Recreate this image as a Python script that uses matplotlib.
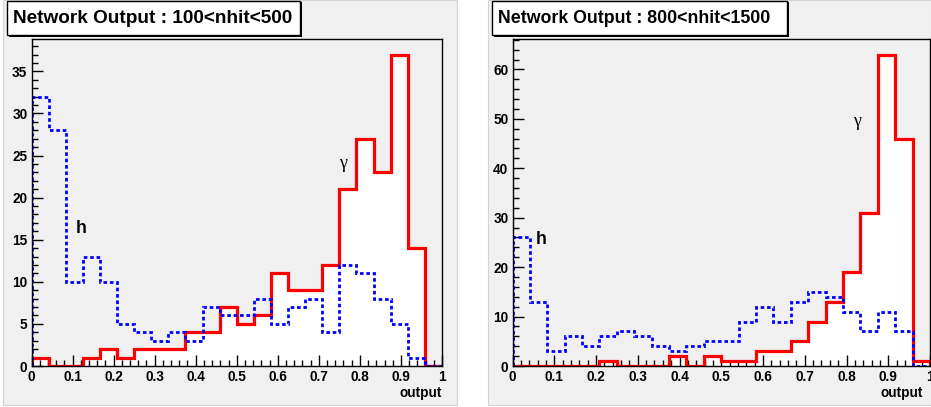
"""Two-panel network output histograms (gamma vs hadron)."""

import matplotlib

matplotlib.use("Agg")
import matplotlib.pyplot as plt
import numpy as np
from matplotlib import font_manager
from matplotlib.patches import Rectangle
from matplotlib.ticker import MultipleLocator

# Data: 24 bins between 0 and 1
bin_edges = np.linspace(0.0, 1.0, 25)

titles = ["Network Output : 100<nhit<500", "Network Output : 800<nhit<1500"]

gamma_low = [1, 0, 0, 1, 2, 1, 2, 2, 2, 4, 4, 7,
             5, 6, 11, 9, 9, 12, 21, 27, 23, 37, 14, 0]
hadron_low = [32, 28, 10, 13, 10, 5, 4, 3, 4, 3, 7, 6,
              6, 8, 5, 7, 8, 4, 12, 11, 8, 5, 1, 0]

gamma_high = [0, 0, 0, 0, 0, 1, 0, 0, 0, 2, 0, 2,
              1, 1, 3, 3, 5, 9, 13, 19, 31, 63, 46, 1]
hadron_high = [26, 13, 3, 6, 4, 6, 7, 6, 4, 3, 4, 5,
               5, 9, 12, 9, 13, 15, 14, 11, 7, 11, 7, 0]

# label positions (data coords) for the "h" and gamma tags
h_pos = [(0.122, 16.3), (0.069, 25.5)]
g_pos = [(0.759, 24.1), (0.824, 49.5)]
y_major = [5, 10]

# Pick a condensed sans if we have one, like the ROOT output
names = {f.name for f in font_manager.fontManager.ttflist}
if "Liberation Sans Narrow" in names:
    FONT, scale = "Liberation Sans Narrow", 1.0
else:
    FONT, scale = "Liberation Sans", 0.85

PAD = "#f0f0f0"

fig = plt.figure(figsize=(9.31, 4.07), dpi=100)

W, H = 931.0, 407.0


def fig_rect(x0, y0, x1, y1):
    """Pixel box (top-left origin) -> figure fraction rect"""
    return [x0 / W, 1 - y1 / H, (x1 - x0) / W, (y1 - y0) / H]


# gray pads behind each panel
for px0, px1 in [(3, 457), (488, 931)]:
    r = fig_rect(px0, 0, px1, 405)
    fig.patches.append(Rectangle(r[:2], r[2], r[3], transform=fig.transFigure,
                                 facecolor=PAD, edgecolor="#d4d4d4", lw=0.8,
                                 zorder=-1))

ax_boxes = [(31.5, 39, 442, 366), (512.5, 39, 930, 366)]
title_boxes = [(7, 1, 300, 35), (492, 1, 787, 35)]
title_size = [16.1, 15.0]
out_x = [442, 923]

panels = [(gamma_low, hadron_low), (gamma_high, hadron_high)]

for i, (gamma, hadron) in enumerate(panels):
    ax = fig.add_axes(fig_rect(*ax_boxes[i]))
    ax.set_facecolor(PAD)

    # gamma: white filled, red outline; hadron: blue dotted on top
    ax.stairs(gamma, bin_edges, fill=True, color="white", zorder=1)
    ax.stairs(gamma, bin_edges, color="red", lw=2.3, zorder=2)
    ax.stairs(hadron, bin_edges, color="blue", lw=2.0,
              linestyle=(0, (1.3, 1.0)), zorder=3)

    ax.set_xlim(0, 1)
    ax.set_ylim(0, max(gamma + hadron) * 1.05)

    ax.xaxis.set_major_locator(MultipleLocator(0.1))
    ax.xaxis.set_minor_locator(MultipleLocator(0.02))
    ax.yaxis.set_major_locator(MultipleLocator(y_major[i]))
    ax.yaxis.set_minor_locator(MultipleLocator(y_major[i] / 5))
    ax.xaxis.set_major_formatter(lambda v, _: f"{v:g}")

    ax.tick_params(which="both", direction="in", top=False, right=False,
                   width=1, colors="black")
    ax.tick_params(which="major", length=8, pad=3)
    ax.tick_params(which="minor", length=4)
    for lab in ax.get_xticklabels() + ax.get_yticklabels():
        lab.set_fontfamily(FONT)
        lab.set_fontweight("bold")
        lab.set_fontsize(11.5 * scale)
    for sp in ax.spines.values():
        sp.set_linewidth(1.0)
        sp.set_zorder(5)

    ax.text(*h_pos[i], "h", fontfamily=FONT, fontweight="bold",
            fontsize=15 * scale, ha="center", va="center")
    ax.text(*g_pos[i], "\u03b3", fontfamily="Liberation Serif",
            fontsize=13, ha="center", va="center")

    # title box with a small shadow
    tx0, ty0, tx1, ty1 = title_boxes[i]
    sr = fig_rect(tx0 + 1.5, ty0 + 1.5, tx1 + 1.5, ty1 + 1.5)
    fig.patches.append(Rectangle(sr[:2], sr[2], sr[3], transform=fig.transFigure,
                                 facecolor="black", edgecolor="none", zorder=6))
    tr = fig_rect(tx0, ty0, tx1, ty1)
    fig.patches.append(Rectangle(tr[:2], tr[2], tr[3], transform=fig.transFigure,
                                 facecolor="white", edgecolor="black", lw=1,
                                 zorder=7))
    fig.text((tx0 + 6) / W, 1 - 18.5 / H, titles[i], fontfamily=FONT,
             fontweight="bold", fontsize=title_size[i] * scale, ha="left",
             va="center", zorder=8)

    fig.text(out_x[i] / W, 1 - 393 / H, "output", fontfamily=FONT,
             fontweight="bold", fontsize=11.5 * scale, ha="right", va="center")

fig.savefig("out.png", dpi=100)
